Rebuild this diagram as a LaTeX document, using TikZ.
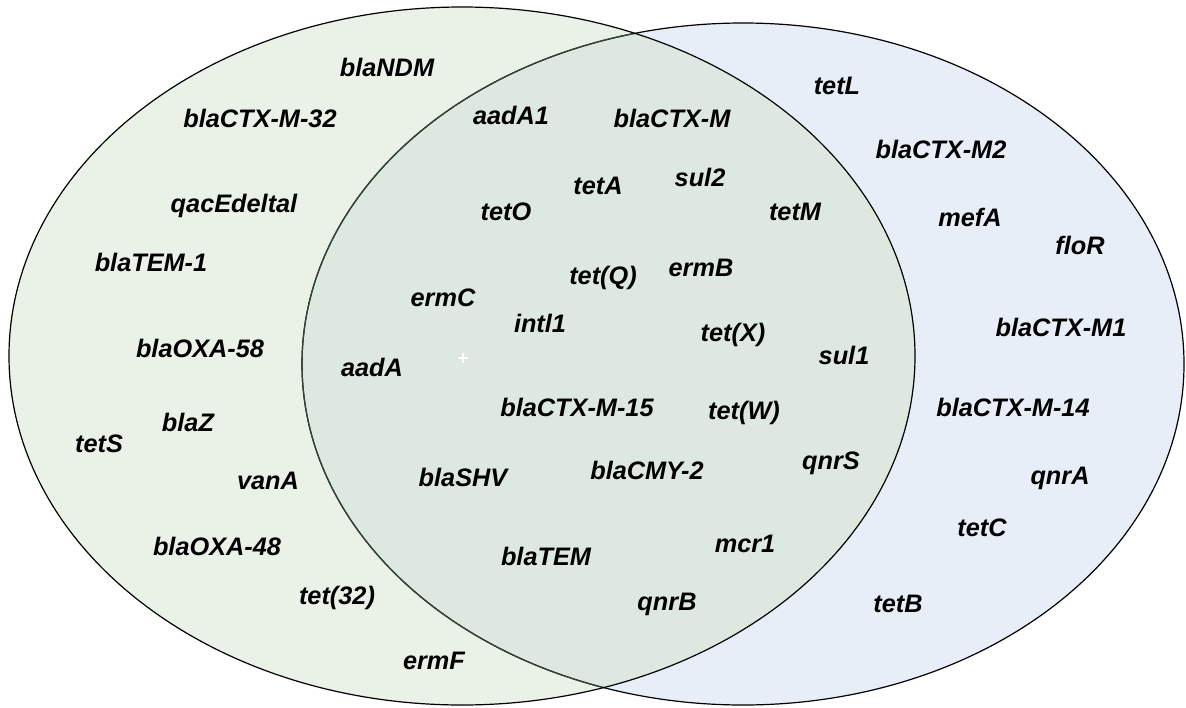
\documentclass[tikz,border=0pt]{standalone}
\usepackage{fontspec}
\setmainfont{Liberation Sans}
\definecolor{leftfill}{HTML}{EAF1E6}
\definecolor{rightfill}{HTML}{E7EEF7}
\definecolor{bothfill}{HTML}{DCE8E0}
\definecolor{innerline}{HTML}{36443A}
\tikzset{
  gene/.style={anchor=base, inner sep=0pt, font=\fontsize{25.3}{28}\selectfont\bfseries\itshape, text=black},
  vennline/.style={line width=1.2pt}
}
\begin{document}
\begin{tikzpicture}[x=1pt,y=-1pt]
\useasboundingbox (0,0) rectangle (1186,707);
% fills
\fill[rightfill] (743,364) ellipse [x radius=441pt, y radius=341pt];
\fill[leftfill] (462,356) ellipse [x radius=453pt, y radius=349pt];
\begin{scope}
  \clip (743,364) ellipse [x radius=441pt, y radius=341pt];
  \fill[bothfill] (462,356) ellipse [x radius=453pt, y radius=349pt];
\end{scope}
% outlines
\draw[vennline] (743,364) ellipse [x radius=441pt, y radius=341pt];
\begin{scope}
  \clip (462,356) ellipse [x radius=453pt, y radius=349pt];
  \draw[vennline, innerline] (743,364) ellipse [x radius=441pt, y radius=341pt];
\end{scope}
\draw[vennline] (462,356) ellipse [x radius=453pt, y radius=349pt];
% centre mark
\draw[white, line width=1.3pt] (458,358) -- (468,358) (463,353) -- (463,363);
% left only
\node[gene] (blaNDM) at (387,76) {blaNDM};
\node[gene] (blaCTXM32) at (260,127) {blaCTX-M-32};
\node[gene] (qacE) at (234,212) {qacEdeltal};
\node[gene] (blaTEM1) at (151,271) {blaTEM-1};
\node[gene] (blaOXA58) at (200,357) {blaOXA-58};
\node[gene] (blaZ) at (188,431) {blaZ};
\node[gene] (tetS) at (99,452) {tetS};
\node[gene] (vanA) at (268,489) {vanA};
\node[gene] (blaOXA48) at (217,555) {blaOXA-48};
\node[gene] (tet32) at (337,604) {tet(32)};
\node[gene] (ermF) at (434,669) {ermF};
% both
\node[gene] (aadA1) at (511,124) {aadA1};
\node[gene] (blaCTXM) at (672,127) {blaCTX-M};
\node[gene] (tetA) at (598,194) {tetA};
\node[gene] (sul2) at (700,186) {sul2};
\node[gene] (tetO) at (506,220) {tetO};
\node[gene] (tetM) at (795,220) {tetM};
\node[gene] (tetQ) at (603,284) {tet(Q)};
\node[gene] (ermB) at (701,276) {ermB};
\node[gene] (ermC) at (443,306) {ermC};
\node[gene] (intl1) at (540,332) {intl1};
\node[gene] (tetX) at (733,341) {tet(X)};
\node[gene] (sul1) at (844,364) {sul1};
\node[gene] (aadA) at (372,376) {aadA};
\node[gene] (blaCTXM15) at (577,416) {blaCTX-M-15};
\node[gene] (tetW) at (744,419) {tet(W)};
\node[gene] (qnrS) at (831,469) {qnrS};
\node[gene] (blaSHV) at (463,486) {blaSHV};
\node[gene] (blaCMY2) at (647,479) {blaCMY-2};
\node[gene] (mcr1) at (745,552) {mcr1};
\node[gene] (blaTEM) at (546,565) {blaTEM};
\node[gene] (qnrB) at (667,610) {qnrB};
% right only
\node[gene] (tetL) at (837,94) {tetL};
\node[gene] (blaCTXM2) at (941,158) {blaCTX-M2};
\node[gene] (mefA) at (970,226) {mefA};
\node[gene] (floR) at (1080,254) {floR};
\node[gene] (blaCTXM1) at (1061,336) {blaCTX-M1};
\node[gene] (blaCTXM14) at (1013,416) {blaCTX-M-14};
\node[gene] (qnrA) at (1060,484) {qnrA};
\node[gene] (tetC) at (982,536) {tetC};
\node[gene] (tetB) at (898,612) {tetB};
\end{tikzpicture}
\end{document}
